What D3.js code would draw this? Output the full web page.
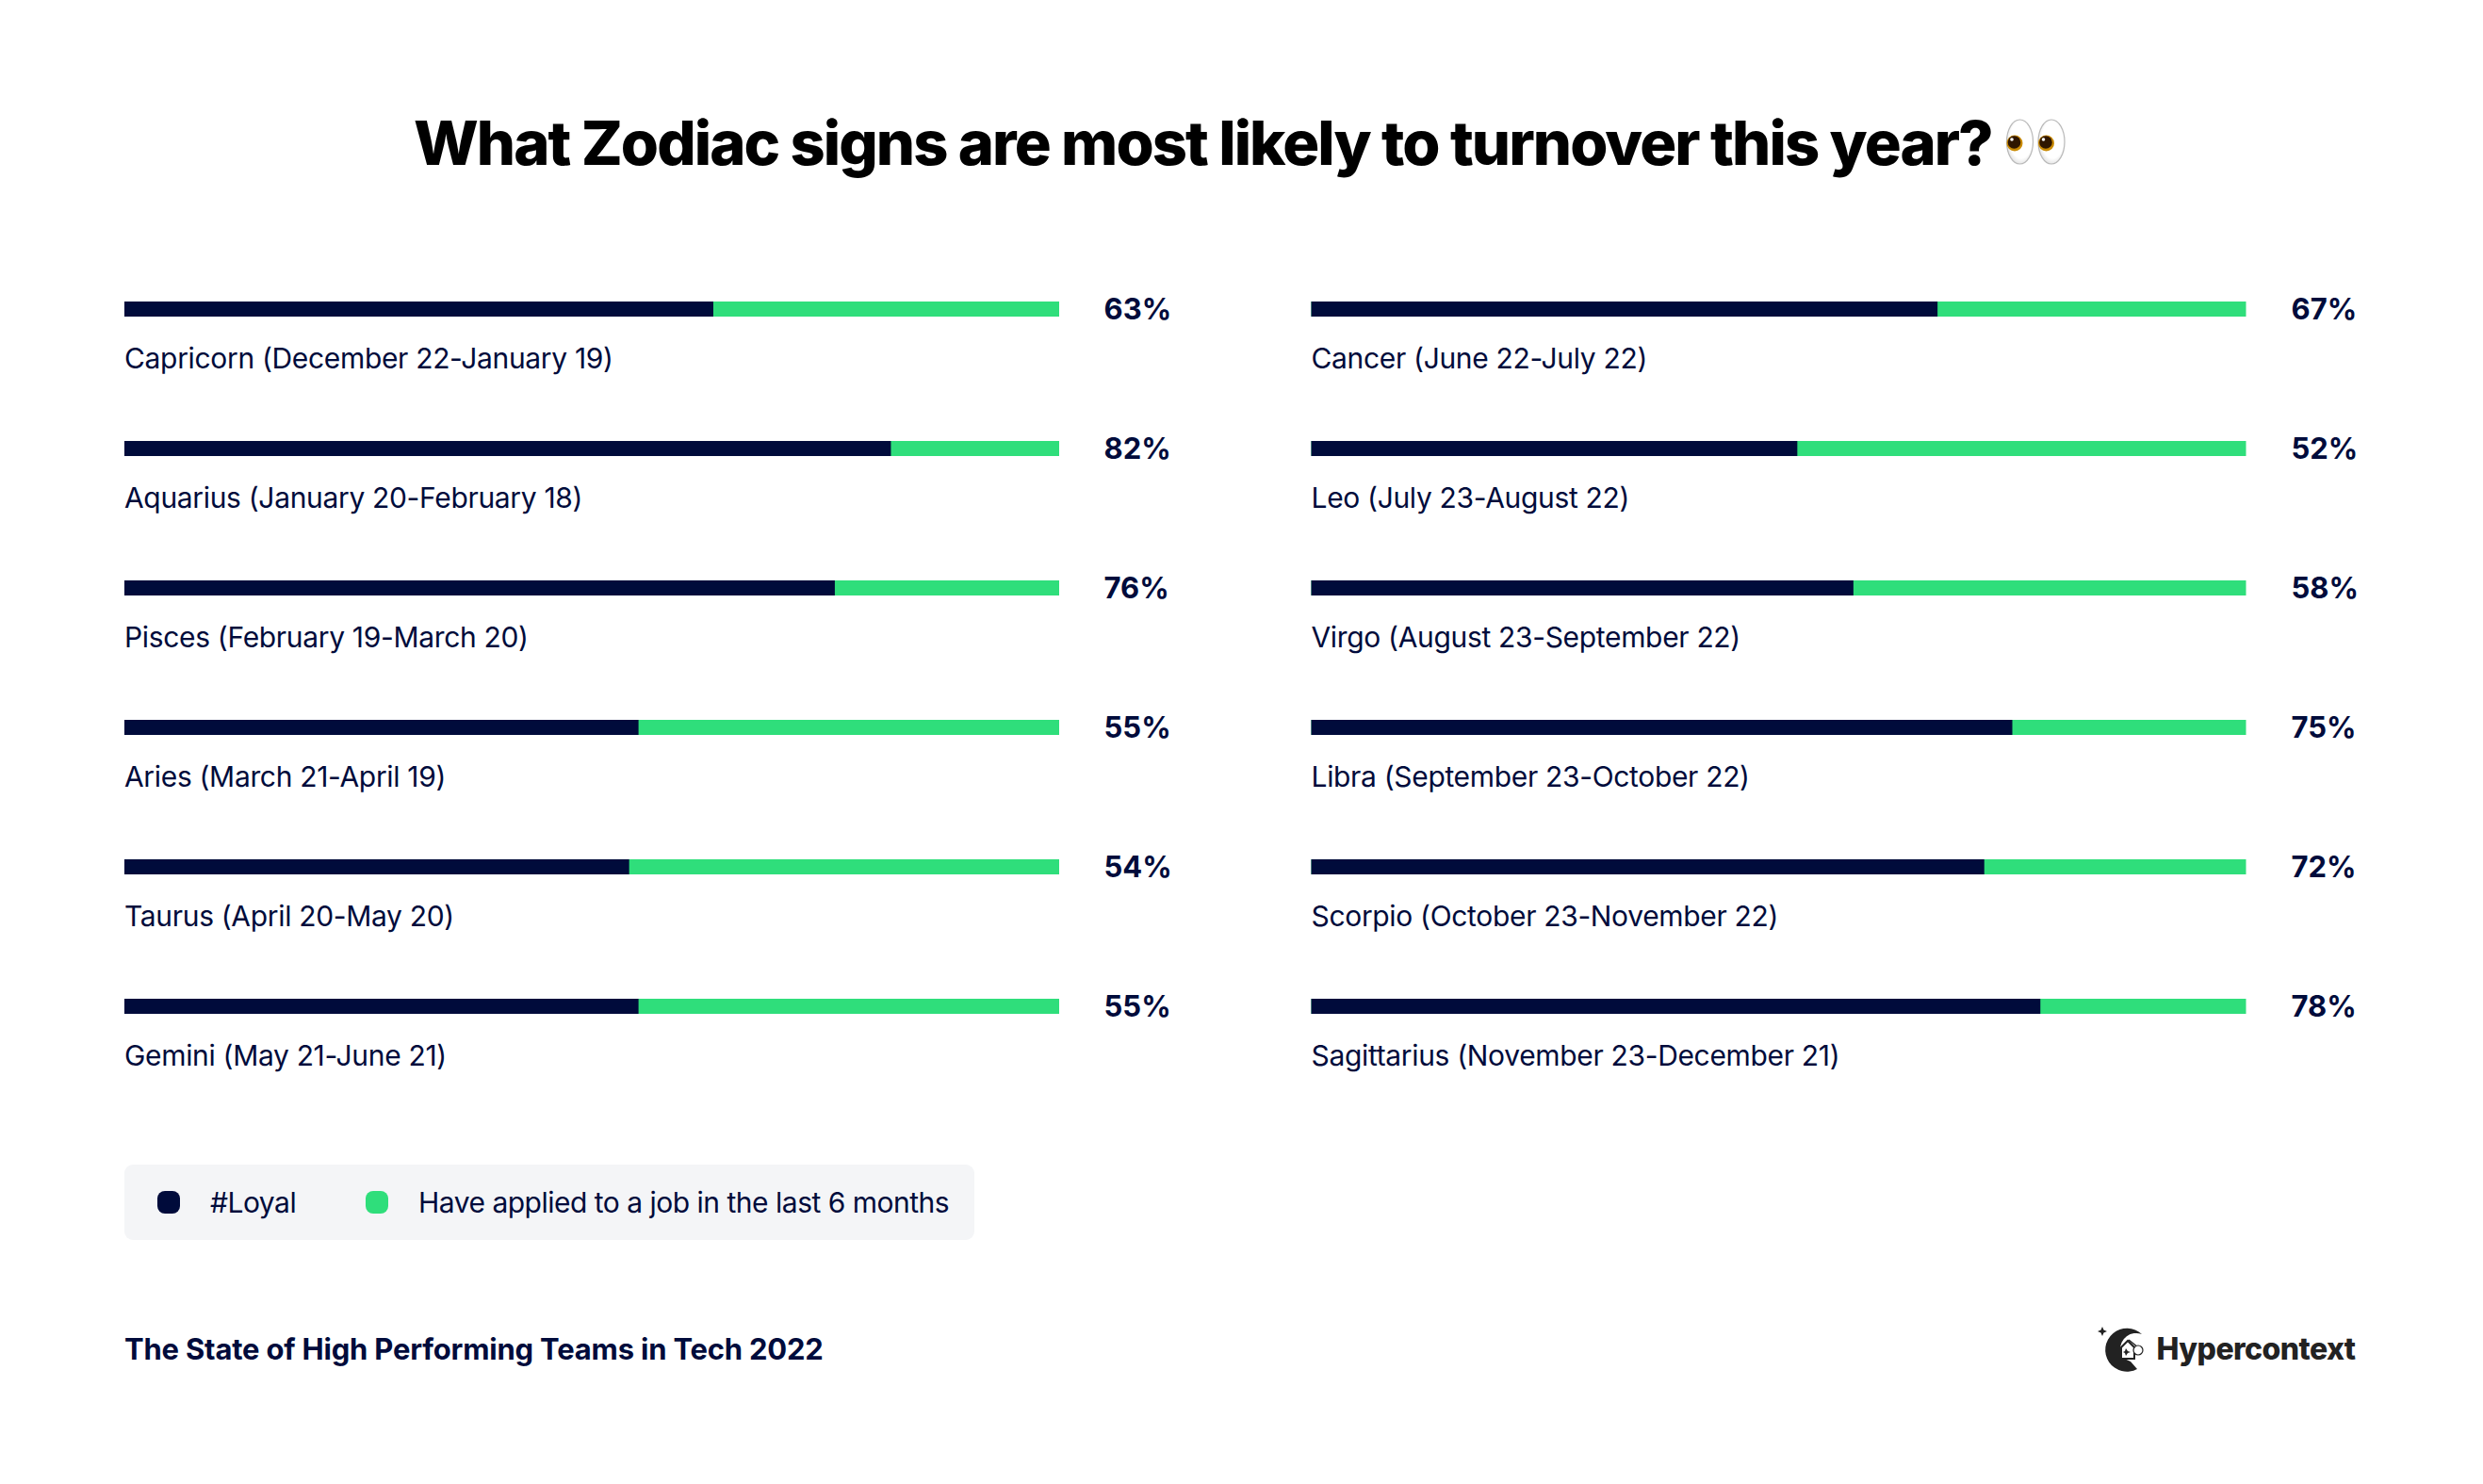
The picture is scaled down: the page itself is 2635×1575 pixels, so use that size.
<!DOCTYPE html>
<html>
<head>
<meta charset="utf-8">
<script src="https://cdn.jsdelivr.net/npm/d3@7"></script>
<style>
  html, body { margin: 0; padding: 0; background: #fff; }
  text { font-family: Inter, sans-serif; }
</style>
</head>
<body>
<div id="chart"></div>
<script>
// left column, top to bottom
const leftSigns = [
  "Capricorn (December 22-January 19)",
  "Aquarius (January 20-February 18)",
  "Pisces (February 19-March 20)",
  "Aries (March 21-April 19)",
  "Taurus (April 20-May 20)",
  "Gemini (May 21-June 21)"
];
const leftLoyal = [63, 82, 76, 55, 54, 55];

// right column
const rightSigns = [
  "Cancer (June 22-July 22)",
  "Leo (July 23-August 22)",
  "Virgo (August 23-September 22)",
  "Libra (September 23-October 22)",
  "Scorpio (October 23-November 22)",
  "Sagittarius (November 23-December 21)"
];
const rightLoyal = [67, 52, 58, 75, 72, 78];

const legendLabels = ["#Loyal", "Have applied to a job in the last 6 months"];
const titleText = "What Zodiac signs are most likely to turnover this year?";
const sourceText = "The State of High Performing Teams in Tech 2022";
const brandText = "Hypercontext";

const width = 2635,
  height = 1575;
const navy = "#000b3b",
  green = "#2fde7b";

const svg = d3
  .select("#chart")
  .append("svg")
  .attr("width", width)
  .attr("height", height)
  .attr("viewBox", `0 0 ${width} ${height}`)
  .style("display", "block");

svg
  .append("text")
  .attr("x", 439)
  .attr("y", 175)
  .attr("font-size", 65)
  .attr("font-weight", 800)
  .attr("letter-spacing", -1.94)
  .attr("fill", "#000")
  .text(titleText);

// eyes emoji, no emoji font here so it is drawn
const defs = svg.append("defs");
const sclera = defs
  .append("radialGradient")
  .attr("id", "sclera")
  .attr("cx", "55%")
  .attr("cy", "45%")
  .attr("r", "60%");
sclera.append("stop").attr("offset", "70%").attr("stop-color", "#fff");
sclera.append("stop").attr("offset", "100%").attr("stop-color", "#dcdcdc");

const eyes = svg
  .selectAll(".eye")
  .data([2143.5, 2177])
  .join("g")
  .attr("class", "eye");
eyes
  .append("ellipse")
  .attr("cx", (d) => d)
  .attr("cy", 150.5)
  .attr("rx", 14)
  .attr("ry", 23.5)
  .attr("fill", "url(#sclera)")
  .attr("stroke", "#b9b9b9")
  .attr("stroke-width", 1.2);
eyes
  .append("circle")
  .attr("cx", (d) => d - 5.5)
  .attr("cy", 152)
  .attr("r", 8.5)
  .attr("fill", "#c98a04");
eyes
  .append("circle")
  .attr("cx", (d) => d - 6)
  .attr("cy", 151)
  .attr("r", 6.8)
  .attr("fill", "#2f1600");
eyes
  .append("circle")
  .attr("cx", (d) => d - 8.5)
  .attr("cy", 148)
  .attr("r", 1.8)
  .attr("fill", "#fff");

const rowY = d3.scalePoint().domain(d3.range(6)).range([320, 1060]);
const barWidth = 992;
const barHeight = 16;
const xScale = d3.scaleLinear().domain([0, 100]).range([0, barWidth]);

function drawColumn(signs, loyal, left, pctX) {
  const rows = svg
    .append("g")
    .selectAll("g")
    .data(signs.map((name, i) => ({ name, loyal: loyal[i], i })))
    .join("g")
    .attr("transform", (d) => `translate(${left},${rowY(d.i)})`);

  rows
    .append("rect")
    .attr("width", xScale(100))
    .attr("height", barHeight)
    .attr("fill", green);
  rows
    .append("rect")
    .attr("width", (d) => xScale(d.loyal))
    .attr("height", barHeight)
    .attr("fill", navy);
  rows
    .append("text")
    .attr("x", pctX - left)
    .attr("y", 19)
    .attr("font-size", 31)
    .attr("font-weight", 700)
    .attr("fill", navy)
    .text((d) => d.loyal + "%");
  rows
    .append("text")
    .attr("y", 70.5)
    .attr("font-size", 30)
    .attr("letter-spacing", -0.33)
    .attr("fill", navy)
    .text((d) => d.name);
}

drawColumn(leftSigns, leftLoyal, 132, 1171.5);
drawColumn(rightSigns, rightLoyal, 1391.5, 2431.5);

// legend
svg
  .append("rect")
  .attr("x", 132)
  .attr("y", 1236)
  .attr("width", 902)
  .attr("height", 80)
  .attr("rx", 9)
  .attr("fill", "#f4f5f7");

const legendItems = svg
  .selectAll(".legend-item")
  .data(legendLabels.map((label, i) => ({ label, swatch: [167, 388][i], color: [navy, green][i] })))
  .join("g")
  .attr("class", "legend-item");
legendItems
  .append("rect")
  .attr("x", (d) => d.swatch)
  .attr("y", 1264)
  .attr("width", 24)
  .attr("height", 24)
  .attr("rx", 8)
  .attr("fill", (d) => d.color);
legendItems
  .append("text")
  .attr("x", (d) => d.swatch + 56)
  .attr("y", 1287)
  .attr("font-size", 30)
  .attr("letter-spacing", -0.5)
  .attr("fill", navy)
  .text((d) => d.label);

svg
  .append("text")
  .attr("x", 132)
  .attr("y", 1443)
  .attr("font-size", 31)
  .attr("font-weight", 700)
  .attr("letter-spacing", -0.2)
  .attr("fill", navy)
  .text(sourceText);

// logo mark: crescent, star and small telescope
const logo = svg.append("g").attr("transform", "translate(2255,1433)");
logo
  .append("path")
  .attr("d", "M18,-17 A23,23 0 1 0 13,20 L6,12 A16,16 0 0 1 -5,0 A17,17 0 0 1 18,-17 Z")
  .attr("fill", "#222");
logo
  .append("path")
  .attr("d", "M-24,-25 L-22.5,-21.5 L-19,-20 L-22.5,-18.5 L-24,-15 L-25.5,-18.5 L-29,-20 L-25.5,-21.5 Z")
  .attr("fill", "#222");
logo
  .append("path")
  .attr("d", "M-4,-3 L3,-10 L10,-3 L10,9 L-4,9 Z")
  .attr("fill", "#fff")
  .attr("stroke", "#222")
  .attr("stroke-width", 2);
logo
  .append("path")
  .attr("d", "M1,-2 L3,1 L6,2 L3,3 L1,6 L0,3 L-2,2 L0,1 Z")
  .attr("fill", "#222");
logo
  .append("line")
  .attr("x1", 4)
  .attr("y1", -11)
  .attr("x2", 14)
  .attr("y2", -3)
  .attr("stroke", "#222")
  .attr("stroke-width", 1.5);
logo
  .append("circle")
  .attr("cx", 14)
  .attr("cy", 0)
  .attr("r", 5)
  .attr("fill", "#fff")
  .attr("stroke", "#222")
  .attr("stroke-width", 1.2);

svg
  .append("text")
  .attr("x", 2288.5)
  .attr("y", 1443)
  .attr("font-size", 32)
  .attr("font-weight", 800)
  .attr("letter-spacing", -0.55)
  .attr("fill", "#222")
  .text(brandText);
</script>
</body>
</html>
